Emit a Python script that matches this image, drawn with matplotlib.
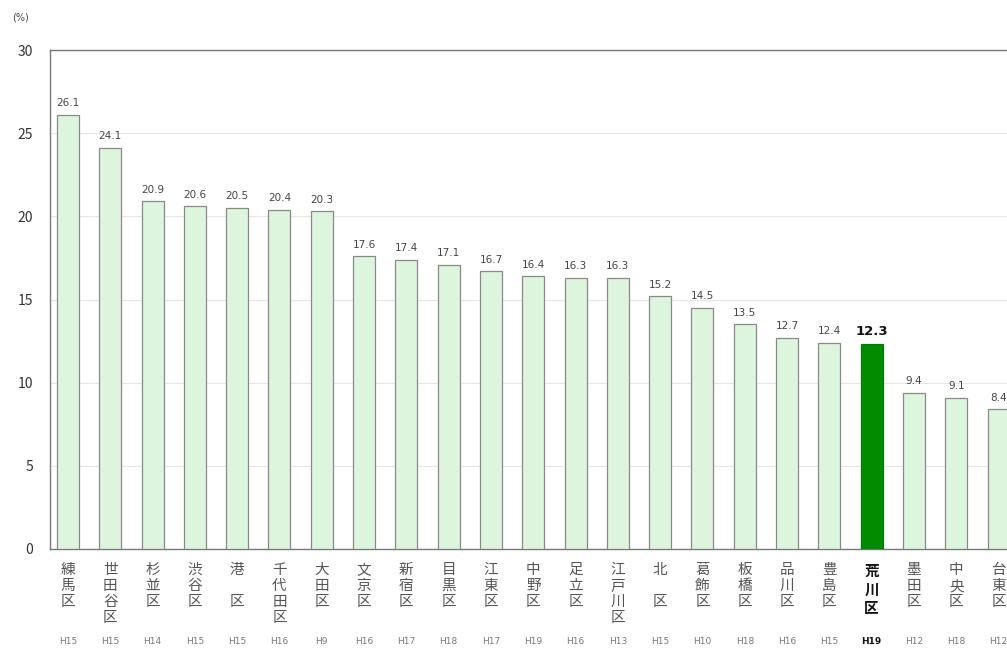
import matplotlib
matplotlib.use('Agg')
import matplotlib.pyplot as plt
import matplotlib.transforms as mtransforms

plt.rcParams['font.family'] = ['Noto Sans CJK JP', 'DejaVu Sans']

# 区名・値・年度
wards = ['練馬区', '世田谷区', '杉並区', '渋谷区', '港　区', '千代田区', '大田区',
         '文京区', '新宿区', '目黒区', '江東区', '中野区', '足立区', '江戸川区',
         '北　区', '葛飾区', '板橋区', '品川区', '豊島区', '荒川区', '墨田区',
         '中央区', '台東区']
values = [26.1, 24.1, 20.9, 20.6, 20.5, 20.4, 20.3, 17.6, 17.4, 17.1, 16.7,
          16.4, 16.3, 16.3, 15.2, 14.5, 13.5, 12.7, 12.4, 12.3, 9.4, 9.1, 8.4]
years = ['H15', 'H15', 'H14', 'H15', 'H15', 'H16', 'H9', 'H16', 'H17', 'H18',
         'H17', 'H19', 'H16', 'H13', 'H15', 'H10', 'H18', 'H16', 'H15', 'H19',
         'H12', 'H18', 'H12']
highlight = '荒川区'

fig = plt.figure(figsize=(10.07, 6.49), dpi=100)
ax = fig.add_axes([50 / 1007, 100 / 649, 957 / 1007, 499 / 649])

x = list(range(len(wards)))
colors = ['#008c00' if w == highlight else '#dcf5dc' for w in wards]
edges = ['#007a00' if w == highlight else '#8a8a8a' for w in wards]
ax.bar(x, values, width=0.52, color=colors, edgecolor=edges, linewidth=0.9, zorder=3)

for i, v in enumerate(values):
    if wards[i] == highlight:
        ax.text(i, v + 0.4, f'{v:.1f}', ha='center', va='bottom',
                fontsize=9.5, fontweight='bold', color='#111111', family='DejaVu Sans')
    else:
        ax.text(i, v + 0.4, f'{v:.1f}', ha='center', va='bottom',
                fontsize=7.5, color='#444444', family='DejaVu Sans')

ax.set_xlim(-0.4255, 22.2)
ax.set_ylim(0, 30)
ax.set_yticks([0, 5, 10, 15, 20, 25, 30])
ax.tick_params(axis='y', length=0, pad=12, labelsize=10, labelcolor='#333333')
ax.grid(axis='y', color='#e6e6e6', linewidth=0.8, zorder=0)

ax.set_xticks(x)
ax.set_xticklabels(['\n'.join(w) for w in wards], fontsize=10.5, color='#555555',
                   va='top', linespacing=1.2)
ax.tick_params(axis='x', length=0, pad=10)
for lbl, w in zip(ax.get_xticklabels(), wards):
    if w == highlight:
        lbl.set_color('#111111')
        lbl.set_fontweight('bold')

# 年度ラベル
trans = mtransforms.blended_transform_factory(ax.transData, fig.transFigure)
for i, y in enumerate(years):
    bold = wards[i] == highlight
    ax.text(i, 7 / 649, y, transform=trans, ha='center', va='center',
            fontsize=6.5, color='#111111' if bold else '#777777',
            fontweight='bold' if bold else 'normal', family='DejaVu Sans', clip_on=False)

for side in ['left', 'top', 'bottom']:
    ax.spines[side].set_color('#777777')
    ax.spines[side].set_linewidth(1.0)
ax.spines['right'].set_visible(False)

fig.text(12 / 1007, 1 - 18 / 649, '(%)', fontsize=7, color='#444444', va='center',
         family='DejaVu Sans')

fig.savefig('out.png', dpi=100)
